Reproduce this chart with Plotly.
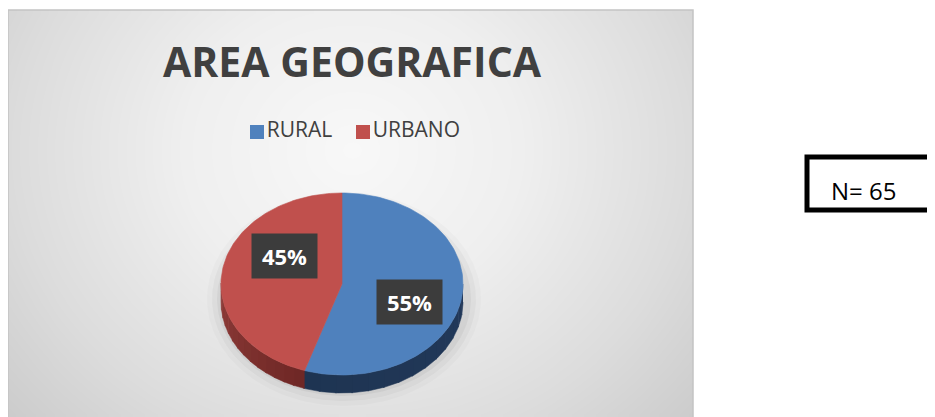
import numpy as np
import plotly.graph_objects as go

# The page body has an 8px default margin, so the figure is drawn 8px in
# from the window's top-left corner; the axes are offset to keep window pixels.
W, H = 935, 417
OFF = 8

# ---------------- data ----------------
categories = ["RURAL", "URBANO"]
values = [55, 45]            # percentages shown on the chart
n_total = 65
title_text = "AREA GEOGRAFICA"

top_colors = ["#4f81bd", "#c0504d"]
side_colors_a = ["#22395a", "#6e2725"]   # colour at start of visible wall
side_colors_b = ["#1e3452", "#8f3c39"]   # colour at end of visible wall

# ---------------- geometry (pixel space) ----------------
CX, CY, RX, RY, DEPTH = 342, 284, 121, 91, 18
FONT = "Open Sans"


def hex2rgb(h):
    h = h.lstrip("#")
    return np.array([int(h[i:i + 2], 16) for i in (0, 2, 4)], dtype=float)


def mix(c1, c2, f):
    c = hex2rgb(c1) * (1 - f) + hex2rgb(c2) * f
    return "rgb(%d,%d,%d)" % tuple(np.round(c).astype(int))


def ex(t, r=1.0):
    return CX + RX * r * np.sin(t)


def ey(t, r=1.0):
    return CY - RY * r * np.cos(t)


fig = go.Figure()

# ---------------- background radial gradient ----------------
bx0, bx1, by0, by1 = 8, 693, 10, 417
nx, ny = 140, 80
xs = bx0 + (np.arange(nx) + 0.5) * (bx1 - bx0) / nx
ys = by0 + (np.arange(ny) + 0.5) * (by1 - by0) / ny
XX, YY = np.meshgrid(xs, ys)
D = np.sqrt(((XX - 352) / 370) ** 2 + ((YY - 150) / 330) ** 2)
fig.add_trace(go.Heatmap(
    x=xs, y=ys, z=D, zmin=0, zmax=1.3, zsmooth="best", showscale=False,
    colorscale=[[0, "#f8f8f8"], [0.35, "#efefef"], [0.7, "#dcdcdc"], [1, "#c8c8c8"]],
    hoverinfo="skip"))

# ---------------- soft shadow under the pie ----------------
tt = np.linspace(0, 2 * np.pi, 240)
for grow, alpha in [(16, 0.02), (11, 0.03), (6, 0.045)]:
    fig.add_trace(go.Scatter(
        x=CX + 2 + (RX + grow) * np.sin(tt),
        y=CY + DEPTH / 2 + 6 + (RY + grow) * np.cos(tt),
        mode="lines", fill="toself", fillcolor="rgba(0,0,0,%.3f)" % alpha,
        line=dict(width=0), hoverinfo="skip", showlegend=False))

# ---------------- slices ----------------
total = float(sum(values))
bounds = np.concatenate([[0], np.cumsum(values)]) / total * 2 * np.pi

# side walls (front half only)
for i in range(len(values)):
    a0, a1 = max(bounds[i], np.pi / 2), min(bounds[i + 1], 3 * np.pi / 2)
    if a1 <= a0:
        continue
    nseg = 14
    edges = np.linspace(a0, a1, nseg + 1)
    for k in range(nseg):
        ts = np.linspace(edges[k], edges[k + 1] + 0.01, 8)
        px = np.concatenate([ex(ts), ex(ts[::-1])])
        py = np.concatenate([ey(ts), ey(ts[::-1]) + DEPTH])
        col = mix(side_colors_a[i], side_colors_b[i], (k + 0.5) / nseg)
        fig.add_trace(go.Scatter(
            x=px, y=py, mode="lines", fill="toself", fillcolor=col,
            line=dict(width=0.5, color=col), hoverinfo="skip", showlegend=False))

# top faces
for i in range(len(values)):
    ts = np.linspace(bounds[i], bounds[i + 1], 120)
    px = np.concatenate([[CX], ex(ts), [CX]])
    py = np.concatenate([[CY], ey(ts), [CY]])
    fig.add_trace(go.Scatter(
        x=px, y=py, mode="lines", fill="toself", fillcolor=top_colors[i],
        line=dict(width=0.6, color=top_colors[i]), hoverinfo="skip",
        showlegend=False, name=categories[i]))

# data labels
annotations = []
for i in range(len(values)):
    mid = (bounds[i] + bounds[i + 1]) / 2
    lx = CX + 5 + 0.52 * RX * np.sin(mid)
    ly = CY - 1.65 * RY * np.cos(mid) - 5
    pct = "%d%%" % round(values[i] / total * 100)
    annotations.append(dict(
        x=lx, y=ly, xref="x", yref="y", text="<b>%s</b>" % pct, showarrow=False,
        font=dict(family=FONT, size=22, color="white"),
        bgcolor="#3c3c3c", width=63, height=42, align="center", valign="middle"))

# ---------------- legend ----------------
leg_x = [257, 363]
leg_y = [132, 132]
fig.add_trace(go.Scatter(
    x=leg_x, y=leg_y, mode="markers+text", text=categories,
    textposition="middle right",
    textfont=dict(family=FONT, size=21, color="#404040"),
    marker=dict(symbol="square", size=14, color=top_colors, line=dict(width=0)),
    hoverinfo="skip", showlegend=False))

# ---------------- title ----------------
annotations.append(dict(
    x=352, y=61, xref="x", yref="y", text="<b>%s</b>" % title_text,
    showarrow=False, font=dict(family=FONT, size=41, color="#404040"),
    xanchor="center", yanchor="middle"))

# ---------------- N box ----------------
annotations.append(dict(
    x=829, y=190, xref="x", yref="y", text="N= %d" % n_total, showarrow=False,
    font=dict(family=FONT, size=24, color="black"), xanchor="left", yanchor="middle"))

shapes = [
    dict(type="rect", xref="x", yref="y", x0=bx0, x1=bx1, y0=by0, y1=by1 + 5,
         line=dict(color="#c4c4c4", width=1.5), fillcolor="rgba(0,0,0,0)"),
    dict(type="rect", xref="x", yref="y", x0=807, x1=950, y0=157, y1=210,
         line=dict(color="black", width=5), fillcolor="rgba(0,0,0,0)"),
]

fig.update_layout(
    width=W - OFF, height=H - OFF, margin=dict(l=0, r=0, t=0, b=0),
    paper_bgcolor="white", plot_bgcolor="white",
    xaxis=dict(range=[OFF, W], visible=False, fixedrange=True),
    yaxis=dict(range=[H, OFF], visible=False, fixedrange=True),
    annotations=annotations, shapes=shapes, showlegend=False,
)

fig.write_html("out.html")
